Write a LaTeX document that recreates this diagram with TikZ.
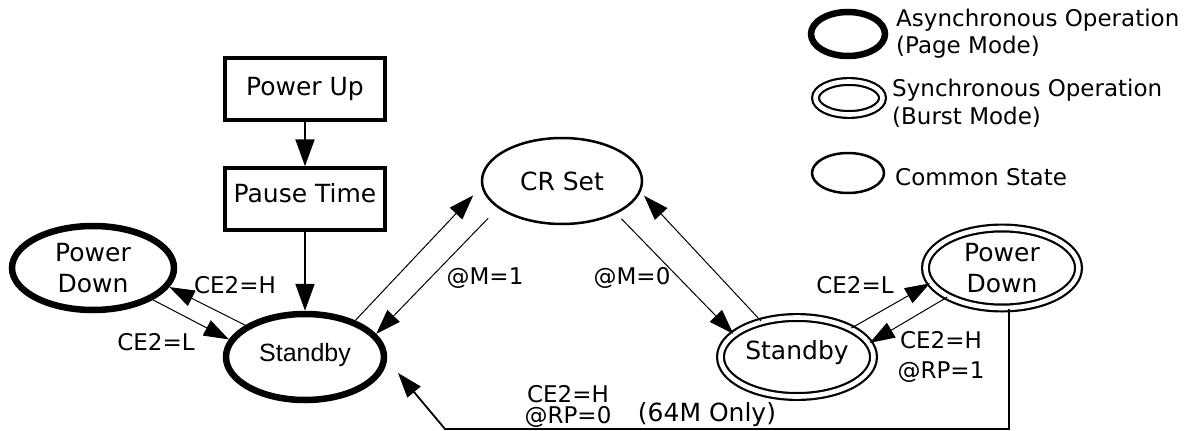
\documentclass[tikz,border=0pt]{standalone}
\usepackage{fontspec}
\setmainfont{DejaVu Sans}
\newfontfamily\arialf{Liberation Sans}
\usetikzlibrary{shapes.geometric,arrows.meta}
\begin{document}
\begin{tikzpicture}[x=1pt,y=-1pt,
  base/.style={font=\fontsize{25}{31}\selectfont, inner sep=0pt, align=center},
  stbox/.style={base, draw, line width=3.5pt, minimum width=160pt, minimum height=62pt},
  thk/.style={base, ellipse, draw, line width=6.5pt},
  dbl/.style={base, ellipse, draw, double, line width=2.2pt, double distance=4.6pt},
  cmn/.style={base, ellipse, draw, line width=2.5pt},
  lbl/.style={font=\fontsize{23}{30}\selectfont, inner sep=0pt, align=center},
  arr/.style={line width=1pt, -{Triangle[length=25pt,width=17pt]}},
  varr/.style={line width=2pt, -{Triangle[length=27pt,width=19pt]}},
  barr/.style={line width=1.8pt, -{Triangle[length=25pt,width=17pt]}}
]
\path[use as bounding box] (0,0) rectangle (1192,431);

% boxes
\node[stbox] (pu) at (305,89) {Power Up};
\node[stbox, text depth=12pt] (pt) at (305,199) {Pause Time};

% states
\node[thk, font=\arialf\fontsize{25}{31}\selectfont, text depth=10pt,
      minimum width=158pt, minimum height=86pt] (ls) at (305,357) {Standby};
\node[thk, minimum width=162pt, minimum height=84pt] (lpd) at (93,268) {Power\\Down};
\node[cmn, minimum width=160pt, minimum height=86pt] (cr) at (562,181) {CR Set};
\node[dbl, text depth=14pt, minimum width=153pt, minimum height=79pt] (rs) at (797,357) {Standby};
\node[dbl, minimum width=153pt, minimum height=80pt] (rpd) at (1002,268) {Power\\Down};

% legend
\node[thk, minimum width=74pt, minimum height=44pt] (g1) at (848,34) {};
\node[dbl, minimum width=67pt, minimum height=33pt] (g2) at (849,98) {};
\node[cmn, minimum width=72pt, minimum height=40pt] (g3) at (848,173) {};
\node[lbl, anchor=west, align=left, font=\fontsize{23}{27}\selectfont] (t1) at (896,34) {Asynchronous Operation\\(Page Mode)};
\node[lbl, anchor=west, align=left, font=\fontsize{23}{28}\selectfont] (t2) at (892,103) {Synchronous Operation\\(Burst Mode)};
\node[lbl, anchor=west] (t3) at (895,177) {Common State};

% labels
\node[lbl] (l1) at (235,285) {CE2=H};
\node[lbl] (l2) at (156,342) {CE2=L};
\node[lbl] (l3) at (485,278) {@M=1};
\node[lbl] (l4) at (632,278) {@M=0};
\node[lbl] (l5) at (855,285) {CE2=L};
\node[lbl] (l6) at (941,357) {CE2=H\\@RP=1};
\node[lbl, font=\fontsize{23}{21}\selectfont] (b1) at (568,406) {CE2=H\\@RP=0};
\node[lbl, font=\fontsize{25}{30}\selectfont] (b3) at (707,415) {(64M Only)};

% connectors
\draw[varr] (pu) -- (pt);
\draw[varr] (pt) -- (ls);
\draw[arr] (ls.152) -- (lpd.-14);
\draw[arr] (lpd.-28) -- (ls.167);
\draw[arr, shorten >=12pt] (ls.36) -- (cr.184);
\draw[arr, shorten <=14pt] (cr.203) -- (ls.18);
\draw[arr, shorten <=7pt] (cr.-31) -- (rs.160);
\draw[arr, shorten >=5pt] (rs.135) -- (cr.-8);
\draw[arr] (rs.28) -- (rpd.192);
\draw[arr] (rpd.208) -- (rs.11);
\coordinate (c1) at (1009,429);
\coordinate (c2) at (445,429);
\draw[barr, shorten >=17pt] (rpd.south -| c1) -- (c1) -- (c2) -- (ls.-2);
\end{tikzpicture}
\end{document}
